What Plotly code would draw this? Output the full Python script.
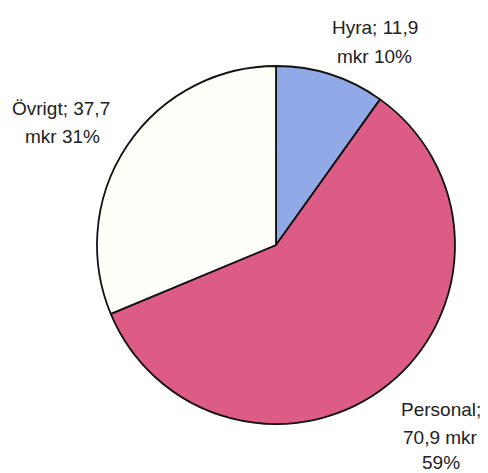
import plotly.graph_objects as go

# Data
categories = ["Hyra", "Personal", "Övrigt"]
values = [11.9, 70.9, 37.7]
value_texts = ["11,9", "70,9", "37,7"]
percent_texts = ["10%", "59%", "31%"]
colors = ["#91A9E6", "#DC5C85", "#FFFEF8"]

# page body has an 8px margin; size the figure to fit the window
OFF = 8
W, H = 488 - OFF, 473 - OFF


def px_x(x):
    return (x - OFF) / W


def px_y(y):
    return 1 - (y - OFF) / H


fig = go.Figure(go.Pie(
    labels=categories,
    values=values,
    sort=False,
    direction="clockwise",
    rotation=0,
    marker=dict(colors=colors, line=dict(color="#111111", width=1.8)),
    textinfo="none",
    hoverinfo="label+value+percent",
    domain=dict(x=[px_x(97), px_x(455)], y=[px_y(424), px_y(66)]),
    showlegend=False,
))

# Label lines (text from data arrays)
label_lines = [
    [f"{categories[0]}; {value_texts[0]}", f"mkr {percent_texts[0]}"],
    [f"{categories[1]};", f"{value_texts[1]} mkr", percent_texts[1]],
    [f"{categories[2]}; {value_texts[2]}", f"mkr {percent_texts[2]}"],
]
label_pos = [
    [(375, 27), (374, 57)],
    [(441, 409), (440, 437), (441, 462)],
    [(61, 108), (62, 137)],
]

annotations = []
for lines, poss in zip(label_lines, label_pos):
    for txt, (px, py) in zip(lines, poss):
        annotations.append(dict(
            x=px_x(px), y=px_y(py), xref="paper", yref="paper",
            text=txt, showarrow=False, xanchor="center", yanchor="middle",
            font=dict(family="Liberation Sans, Arial, sans-serif", size=19, color="#222222"),
        ))

fig.update_layout(
    width=W, height=H,
    margin=dict(l=0, r=0, t=0, b=0),
    paper_bgcolor="white",
    plot_bgcolor="white",
    annotations=annotations,
)

fig.write_html("out.html")
